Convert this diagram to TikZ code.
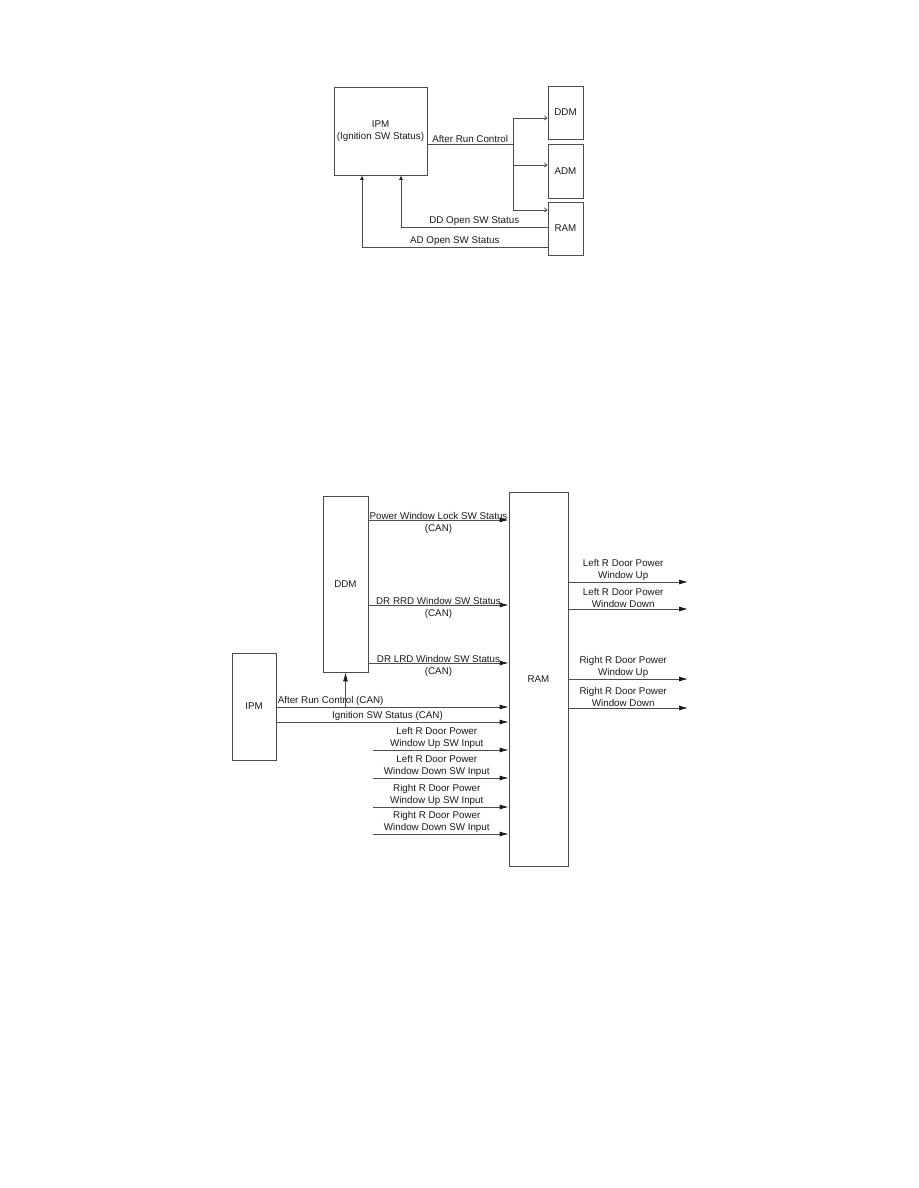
\documentclass[tikz,border=0pt]{standalone}
\usepackage{fontspec}
\setmainfont{Liberation Sans}
\usetikzlibrary{arrows.meta,positioning}

\begin{document}
\begin{tikzpicture}[x=1pt,y=-1pt,
  font=\fontsize{9.8}{12}\selectfont,
  blk/.style={draw=black!70,line width=0.8pt,align=center,inner sep=0pt,text=black!90},
  wire/.style={draw=black!70,line width=0.8pt},
  sig/.style={wire,-{Latex[length=9pt,width=5pt,color=black!90]}},
  tap/.style={wire,-{Straight Barb[length=2.5pt,width=4pt]}},
  ret/.style={wire,-{Latex[length=4.5pt,width=4pt,color=black!90]}},
  lbl/.style={align=center,inner sep=1.5pt,text=black!90}]
  \useasboundingbox (0,0) rectangle (918,1188);
  % Upper diagram
  \node[blk,minimum width=93pt,minimum height=88pt] (ipm) at (380.5,131) {IPM\\(Ignition SW Status)};
  \node[blk,minimum width=35pt,minimum height=53pt] (ddm) at (565.5,112.5) {DDM};
  \node[blk,minimum width=35pt,minimum height=54pt] (adm) at (565.5,171) {ADM};
  \node[blk,minimum width=35pt,minimum height=53pt] (ram) at (565.5,228.5) {RAM};
  \coordinate (trunk) at (513,144);
  \coordinate (tddm) at (513,118);
  \coordinate (tadm) at (513,165);
  \coordinate (tram) at (513,210);
  \draw[wire] (ipm.east |- trunk) -- node[lbl,above]{After Run Control} (trunk);
  \draw[wire] (tddm) -- (tram);
  \draw[tap] (tddm) -- (ddm.west |- tddm);
  \draw[tap] (tadm) -- (adm.west |- tadm);
  \draw[tap] (tram) -- (ram.west |- tram);
  \coordinate (ddfb) at (401,227);
  \coordinate (adfb) at (362,247);
  \draw[ret] (ram.west |- ddfb) -- node[lbl,above]{DD Open SW Status} (ddfb) -- (ddfb |- ipm.south);
  \draw[ret] (ram.west |- adfb) -- node[lbl,above]{AD Open SW Status} (adfb) -- (adfb |- ipm.south);
  % Lower diagram
  \node[blk,minimum width=45pt,minimum height=176pt] (ddmb) at (345.5,584) {DDM};
  \node[blk,minimum width=44pt,minimum height=107pt] (ipmb) at (254,706.5) {IPM};
  \node[blk,minimum width=59pt,minimum height=374pt] (ramb) at (538.5,679) {RAM};
  \foreach \y/\t in {520/Power Window Lock SW Status,605/DR RRD Window SW Status,663/DR LRD Window SW Status}
    \draw[sig] (ddmb.east |- 0,\y) -- node[lbl,yshift=-3pt]{\t\\(CAN)} (ramb.west |- 0,\y);
  \coordinate (arc) at (276,707);
  \coordinate (ign) at (276,722);
  \draw[sig] (ipmb.east |- arc) node[lbl,above right,inner xsep=1pt]{After Run Control (CAN)} -- (ramb.west |- arc);
  \draw[sig] (ipmb.east |- ign) -- node[lbl,above,xshift=-5pt]{Ignition SW Status (CAN)} (ramb.west |- ign);
  \draw[sig] (ddmb.south |- arc) -- (ddmb.south);
  \foreach \y/\a/\b in {750/Left/Up,778/Left/Down,807/Right/Up,834/Right/Down}{
    \coordinate (in\y) at (373,\y);
    \draw[sig] (in\y) -- node[lbl,above,xshift=-4pt]{\a{} R Door Power\\Window \b{} SW Input} (ramb.west |- in\y);
  }
  \foreach \y/\a/\b in {582/Left/Up,609/Left/Down,679/Right/Up,708/Right/Down}{
    \coordinate (out\y) at (688,\y);
    \draw[sig] (ramb.east |- out\y) -- node[lbl,above,xshift=-5pt]{\a{} R Door Power\\Window \b} (out\y);
  }
\end{tikzpicture}
\end{document}
